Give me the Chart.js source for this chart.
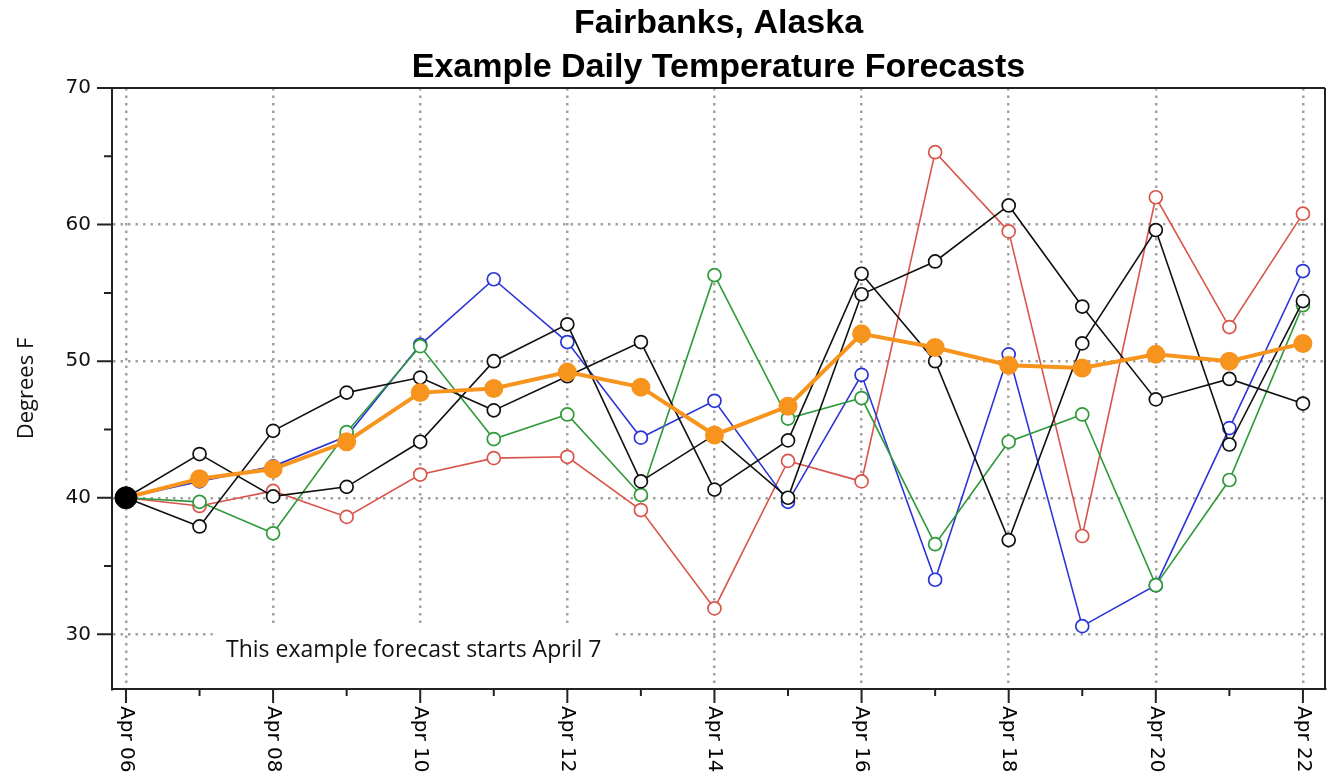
<!DOCTYPE html>
<html>
<head>
<meta charset="utf-8">
<title>Fairbanks, Alaska - Example Daily Temperature Forecasts</title>
<script src="https://cdn.jsdelivr.net/npm/chart.js@4.4.1/dist/chart.umd.min.js"></script>
<style>
  html, body { margin: 0; padding: 0; background: #fff; }
  #wrap { width: 1337px; height: 779px; position: relative; }
</style>
</head>
<body>
<div id="wrap"><canvas id="fcChart"></canvas></div>
<script>
// days along the x axis (index 0 = Apr 06)
const days = ['Apr 06', 'Apr 07', 'Apr 08', 'Apr 09', 'Apr 10', 'Apr 11', 'Apr 12', 'Apr 13', 'Apr 14',
              'Apr 15', 'Apr 16', 'Apr 17', 'Apr 18', 'Apr 19', 'Apr 20', 'Apr 21', 'Apr 22'];
const yTicks = [30, 35, 40, 45, 50, 55, 60, 65, 70];

// observed temperature on the start day
const observed = [40];

// individual forecast runs (deg F)
const redRun    = [40, 39.4, 40.5, 38.6, 41.7, 42.9, 43.0, 39.1, 31.9, 42.7, 41.2, 65.3, 59.5, 37.2, 62.0, 52.5, 60.8];
const greenRun  = [40, 39.7, 37.4, 44.8, 51.1, 44.3, 46.1, 40.2, 56.3, 45.8, 47.3, 36.6, 44.1, 46.1, 33.6, 41.3, 54.1];
const blueRun   = [40, 41.2, 42.3, 44.5, 51.2, 56.0, 51.4, 44.4, 47.1, 39.7, 49.0, 34.0, 50.5, 30.6, 33.6, 45.1, 56.6];
const blackRunA = [40, 43.2, 40.1, 40.8, 44.1, 50.0, 52.7, 41.2, 44.6, 40.0, 54.9, 57.3, 61.4, 54.0, 47.2, 48.7, 46.9];
const blackRunB = [40, 37.9, 44.9, 47.7, 48.8, 46.4, 48.9, 51.4, 40.6, 44.2, 56.4, 50.0, 36.9, 51.3, 59.6, 43.9, 54.4];
// ensemble average
const meanRun   = [40, 41.4, 42.1, 44.1, 47.7, 48.0, 49.2, 48.1, 44.6, 46.7, 52.0, 51.0, 49.7, 49.5, 50.5, 50.0, 51.3];

const titleLines = ['Fairbanks, Alaska', 'Example Daily Temperature Forecasts'];
const noteText = 'This example forecast starts April 7';

document.addEventListener('DOMContentLoaded', () => {
  const toXY = arr => arr.map((v, i) => ({ x: i, y: v }));
  const gridColor = '#a2a2a2';
  const clear = 'rgba(0,0,0,0)';

  const member = (label, arr, color) => ({
    label,
    data: toXY(arr),
    borderColor: color,
    borderWidth: 1.6,
    pointRadius: 6.5,
    pointHoverRadius: 6.5,
    pointBackgroundColor: '#fff',
    pointBorderColor: color,
    pointBorderWidth: 1.7,
    tension: 0
  });

  // white box + note text near the bottom left
  const notePlugin = {
    id: 'note',
    beforeDatasetsDraw(chart) {
      const { ctx, chartArea, scales: { x, y } } = chart;
      const x0 = x.getPixelForValue(1.18), x1 = x.getPixelForValue(6.64);
      const y0 = y.getPixelForValue(30.56);
      ctx.save();
      ctx.fillStyle = '#fff';
      ctx.fillRect(x0, y0, x1 - x0, chartArea.bottom - 2 - y0);
      ctx.fillStyle = '#111';
      ctx.font = '23px "Open Sans", sans-serif';
      ctx.textAlign = 'left';
      ctx.textBaseline = 'alphabetic';
      ctx.fillText(noteText, x.getPixelForValue(1.36), y.getPixelForValue(28.37));
      ctx.restore();
    }
  };

  // frame, tick marks, rotated date labels and title
  const decoPlugin = {
    id: 'deco',
    afterDraw(chart) {
      const { ctx, chartArea: a, scales: { x, y } } = chart;
      ctx.save();
      ctx.strokeStyle = '#222';
      ctx.lineWidth = 2;
      ctx.beginPath();
      ctx.moveTo(a.left, a.top); ctx.lineTo(a.right, a.top);
      ctx.moveTo(a.right, a.top); ctx.lineTo(a.right, a.bottom);
      yTicks.forEach(v => {
        const py = y.getPixelForValue(v);
        const len = v % 10 === 0 ? 15 : 8;
        ctx.moveTo(a.left - len, py); ctx.lineTo(a.left, py);
      });
      days.forEach((_, i) => {
        const px = x.getPixelForValue(i);
        const len = i % 2 === 0 ? 14 : 7;
        ctx.moveTo(px, a.bottom); ctx.lineTo(px, a.bottom + len);
      });
      ctx.stroke();

      ctx.fillStyle = '#000';
      ctx.font = '20px "DejaVu Sans", sans-serif';
      ctx.textAlign = 'left';
      ctx.textBaseline = 'middle';
      days.forEach((d, i) => {
        if (i % 2) return;
        ctx.save();
        ctx.translate(x.getPixelForValue(i), a.bottom + 17);
        ctx.rotate(Math.PI / 2);
        ctx.fillText(d, 0, 0);
        ctx.restore();
      });

      const cx = (a.left + a.right) / 2;
      ctx.font = 'bold 34px "Liberation Sans", Arial, sans-serif';
      ctx.textAlign = 'center';
      ctx.textBaseline = 'alphabetic';
      ctx.fillText(titleLines[0], cx, 33);
      ctx.fillText(titleLines[1], cx, 77);
      ctx.restore();
    }
  };

  new Chart(document.getElementById('fcChart'), {
    type: 'line',
    data: {
      datasets: [
        {
          label: 'Observed',
          data: toXY(observed),
          showLine: false,
          pointRadius: 11,
          pointHoverRadius: 11,
          pointBackgroundColor: '#000',
          pointBorderColor: '#000'
        },
        {
          label: 'Average',
          data: toXY(meanRun),
          borderColor: '#f7941d',
          borderWidth: 4,
          pointRadius: 7.5,
          pointHoverRadius: 7.5,
          pointBackgroundColor: '#f7941d',
          pointBorderColor: '#f7941d',
          tension: 0
        },
        member('Run B', blackRunB, '#111'),
        member('Run A', blackRunA, '#111'),
        member('Green run', greenRun, '#2f9a3a'),
        member('Blue run', blueRun, '#2b35d6'),
        member('Red run', redRun, '#d9554c')
      ]
    },
    options: {
      responsive: true,
      maintainAspectRatio: false,
      animation: false,
      layout: { padding: { top: 88, right: 11, bottom: 0, left: 0 } },
      plugins: {
        legend: { display: false },
        tooltip: { enabled: false }
      },
      scales: {
        x: {
          type: 'linear',
          min: -0.19,
          max: 16.3,
          afterBuildTicks: s => { s.ticks = days.map((_, i) => ({ value: i })); },
          afterFit: s => { s.height = 90; },
          ticks: { display: false },
          grid: {
            color: c => (c.tick && c.tick.value % 2 === 0) ? gridColor : clear,
            lineWidth: 2.5,
            drawTicks: false
          },
          border: { display: true, color: '#222', width: 2, dash: [2.5, 5] }
        },
        y: {
          min: 26,
          max: 70,
          afterBuildTicks: s => { s.ticks = yTicks.map(v => ({ value: v })); },
          afterFit: s => { s.width = 112; },
          ticks: {
            padding: 21,
            color: '#111',
            font: { family: 'DejaVu Sans', size: 20 },
            callback: v => (v % 10 === 0 ? v : '')
          },
          grid: {
            color: c => (c.tick && c.tick.value % 10 === 0 && c.tick.value < 70) ? gridColor : clear,
            lineWidth: 2.5,
            drawTicks: false
          },
          border: { display: true, color: '#222', width: 2, dash: [2.5, 5] },
          title: {
            display: true,
            text: 'Degrees F',
            color: '#111',
            font: { family: 'Open Sans', size: 22 },
            padding: { top: 14, bottom: 0 }
          }
        }
      }
    },
    plugins: [notePlugin, decoPlugin]
  });
});
</script>
</body>
</html>
